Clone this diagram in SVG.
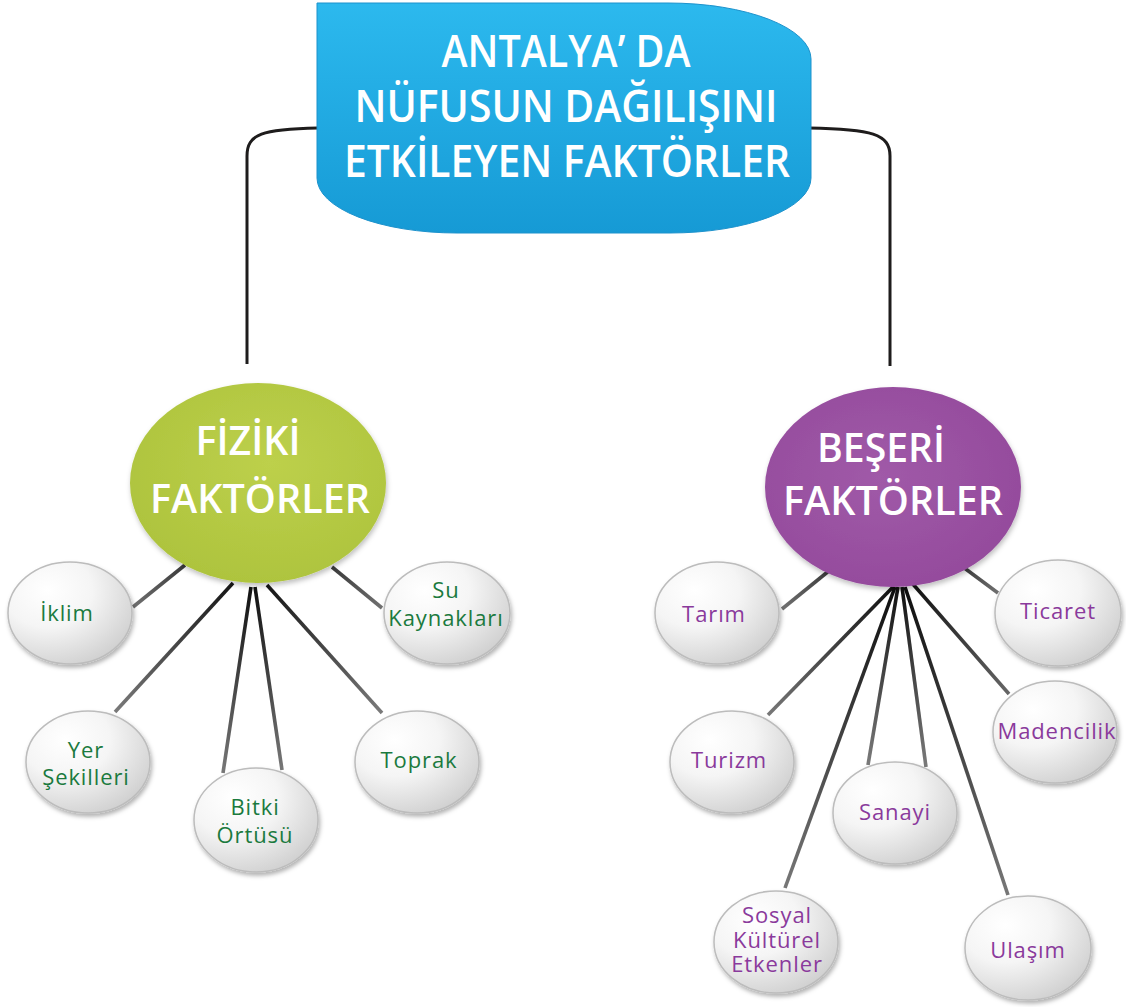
<svg xmlns="http://www.w3.org/2000/svg" width="1126" height="1007" viewBox="0 0 1126 1007">
<defs>
<style>
.main{font-family:"Open Sans","Liberation Sans",sans-serif;font-weight:600;fill:#fff;text-anchor:middle}
.leaf{font-family:"Open Sans","DejaVu Sans",sans-serif;font-size:22px;letter-spacing:0.9px;text-anchor:middle}
.g{fill:#1b7a3e}
.p{fill:#8a3a9c}
.lf{fill:url(#leafG);stroke:#bcbcbc;stroke-width:1.5;filter:url(#sh)}
.ln{fill:none;stroke-width:3.6;stroke-linecap:butt}
.tc{fill:none;stroke:#1e1c1c;stroke-width:3}
</style>
<linearGradient id="titleG" x1="0" y1="0" x2="0" y2="1">
<stop offset="0" stop-color="#2cb9ee"/>
<stop offset="1" stop-color="#169ad5"/>
</linearGradient>
<radialGradient id="greenG" cx="0.55" cy="0.4" r="0.65">
<stop offset="0" stop-color="#bdd04b"/>
<stop offset="1" stop-color="#adc33d"/>
</radialGradient>
<radialGradient id="purpleG" cx="0.45" cy="0.45" r="0.65">
<stop offset="0" stop-color="#a05aa8"/>
<stop offset="1" stop-color="#93499b"/>
</radialGradient>
<radialGradient id="leafG" cx="0.32" cy="0.28" r="0.8">
<stop offset="0" stop-color="#ffffff"/>
<stop offset="0.45" stop-color="#f5f5f5"/>
<stop offset="1" stop-color="#cfcfcf"/>
</radialGradient>
<filter id="sh" x="-20%" y="-20%" width="140%" height="150%">
<feDropShadow dx="1.5" dy="3" stdDeviation="2" flood-color="#000" flood-opacity="0.3"/>
</filter>
<filter id="sh2" x="-10%" y="-10%" width="120%" height="130%">
<feDropShadow dx="1" dy="3" stdDeviation="2.5" flood-color="#000" flood-opacity="0.25"/>
</filter>
<linearGradient id="l1" gradientUnits="userSpaceOnUse" x1="185" y1="565" x2="133" y2="607"><stop offset="0" stop-color="#3a3a3a"/><stop offset="1" stop-color="#707070"/></linearGradient>
<linearGradient id="l2" gradientUnits="userSpaceOnUse" x1="233" y1="583" x2="115" y2="712"><stop offset="0" stop-color="#151515"/><stop offset="1" stop-color="#7a7a7a"/></linearGradient>
<linearGradient id="l3" gradientUnits="userSpaceOnUse" x1="251" y1="587" x2="223" y2="773"><stop offset="0" stop-color="#101010"/><stop offset="1" stop-color="#777"/></linearGradient>
<linearGradient id="l4" gradientUnits="userSpaceOnUse" x1="255" y1="587" x2="282" y2="770"><stop offset="0" stop-color="#101010"/><stop offset="1" stop-color="#777"/></linearGradient>
<linearGradient id="l5" gradientUnits="userSpaceOnUse" x1="267" y1="585" x2="382" y2="713"><stop offset="0" stop-color="#151515"/><stop offset="1" stop-color="#7a7a7a"/></linearGradient>
<linearGradient id="l6" gradientUnits="userSpaceOnUse" x1="332" y1="567" x2="382" y2="608"><stop offset="0" stop-color="#3a3a3a"/><stop offset="1" stop-color="#707070"/></linearGradient>
<linearGradient id="r1" gradientUnits="userSpaceOnUse" x1="830" y1="570" x2="782" y2="609"><stop offset="0" stop-color="#3a3a3a"/><stop offset="1" stop-color="#707070"/></linearGradient>
<linearGradient id="r2" gradientUnits="userSpaceOnUse" x1="963" y1="567" x2="998" y2="593"><stop offset="0" stop-color="#3a3a3a"/><stop offset="1" stop-color="#707070"/></linearGradient>
<linearGradient id="r3" gradientUnits="userSpaceOnUse" x1="893" y1="587" x2="768" y2="715"><stop offset="0" stop-color="#101010"/><stop offset="1" stop-color="#777"/></linearGradient>
<linearGradient id="r4" gradientUnits="userSpaceOnUse" x1="912" y1="583" x2="1009" y2="694"><stop offset="0" stop-color="#101010"/><stop offset="1" stop-color="#666"/></linearGradient>
<linearGradient id="r5" gradientUnits="userSpaceOnUse" x1="898" y1="587" x2="868" y2="765"><stop offset="0" stop-color="#101010"/><stop offset="1" stop-color="#7a7a7a"/></linearGradient>
<linearGradient id="r6" gradientUnits="userSpaceOnUse" x1="902" y1="587" x2="926" y2="767"><stop offset="0" stop-color="#101010"/><stop offset="1" stop-color="#7a7a7a"/></linearGradient>
<linearGradient id="r7" gradientUnits="userSpaceOnUse" x1="895" y1="587" x2="785" y2="888"><stop offset="0" stop-color="#0d0d0d"/><stop offset="1" stop-color="#777"/></linearGradient>
<linearGradient id="r8" gradientUnits="userSpaceOnUse" x1="905" y1="587" x2="1008" y2="895"><stop offset="0" stop-color="#0d0d0d"/><stop offset="1" stop-color="#777"/></linearGradient>
</defs>
<rect width="1126" height="1007" fill="#fff"/>
<g id="connectors">
<path class="tc" d="M318,128 C262,129 247,134 247,156 V364"/>
<path class="tc" d="M809,128 C872,129 890,134 890,156 V366"/>
<line class="ln" stroke="url(#l1)" x1="185" y1="565" x2="133" y2="607"/>
<line class="ln" stroke="url(#l2)" x1="233" y1="583" x2="115" y2="712"/>
<line class="ln" stroke="url(#l3)" x1="251" y1="587" x2="223" y2="773"/>
<line class="ln" stroke="url(#l4)" x1="255" y1="587" x2="282" y2="770"/>
<line class="ln" stroke="url(#l5)" x1="267" y1="585" x2="382" y2="713"/>
<line class="ln" stroke="url(#l6)" x1="332" y1="567" x2="382" y2="608"/>
<line class="ln" stroke="url(#r1)" x1="830" y1="570" x2="782" y2="609"/>
<line class="ln" stroke="url(#r2)" x1="963" y1="567" x2="998" y2="593"/>
<line class="ln" stroke="url(#r3)" x1="893" y1="587" x2="768" y2="715"/>
<line class="ln" stroke="url(#r4)" x1="912" y1="583" x2="1009" y2="694"/>
<line class="ln" stroke="url(#r5)" x1="898" y1="587" x2="868" y2="765"/>
<line class="ln" stroke="url(#r6)" x1="902" y1="587" x2="926" y2="767"/>
<line class="ln" stroke="url(#r7)" x1="895" y1="587" x2="785" y2="888"/>
<line class="ln" stroke="url(#r8)" x1="905" y1="587" x2="1008" y2="895"/>
</g>
<g id="title">
<path d="M317,3 H668 A143,56 0 0 1 811,59 V178 A141,55 0 0 1 670,233 H457 A140,55 0 0 1 317,178 Z" fill="url(#titleG)" stroke="#1d92cc" stroke-width="1"/>
<text class="main" font-size="45" x="566" y="67" textLength="249" lengthAdjust="spacingAndGlyphs">ANTALYA’ DA</text>
<text class="main" font-size="45" x="566" y="122" textLength="423" lengthAdjust="spacingAndGlyphs">NÜFUSUN DAĞILIŞINI</text>
<text class="main" font-size="45" x="567" y="177" textLength="446" lengthAdjust="spacingAndGlyphs">ETKİLEYEN FAKTÖRLER</text>
</g>
<g id="fiziki">
<ellipse cx="258" cy="483" rx="128" ry="100" fill="url(#greenG)" filter="url(#sh2)"/>
<text class="main" font-size="39" x="248" y="455" textLength="105" lengthAdjust="spacingAndGlyphs">FİZİKİ</text>
<text class="main" font-size="39" x="260" y="513" textLength="220" lengthAdjust="spacingAndGlyphs">FAKTÖRLER</text>
</g>
<g id="beseri">
<ellipse cx="893" cy="487" rx="128" ry="100" fill="url(#purpleG)" filter="url(#sh2)"/>
<text class="main" font-size="39" x="881" y="462" textLength="128" lengthAdjust="spacingAndGlyphs">BEŞERİ</text>
<text class="main" font-size="39" x="893" y="515" textLength="220" lengthAdjust="spacingAndGlyphs">FAKTÖRLER</text>
</g>
<g id="iklim"><ellipse class="lf" cx="70" cy="613" rx="62" ry="51"/><text class="leaf g" x="67" y="621">İklim</text></g>
<g id="su-kaynaklari"><ellipse class="lf" cx="447" cy="613" rx="63" ry="51"/><text class="leaf g" x="446" y="598">Su<tspan x="446" y="626">Kaynakları</tspan></text></g>
<g id="yer-sekilleri"><ellipse class="lf" cx="88" cy="762" rx="62" ry="51"/><text class="leaf g" x="86" y="758">Yer<tspan x="86" y="785">Şekilleri</tspan></text></g>
<g id="bitki-ortusu"><ellipse class="lf" cx="256" cy="820" rx="62" ry="52"/><text class="leaf g" x="255" y="815">Bitki<tspan x="255" y="843">Örtüsü</tspan></text></g>
<g id="toprak"><ellipse class="lf" cx="417" cy="762" rx="62" ry="51"/><text class="leaf g" x="419" y="768">Toprak</text></g>
<g id="tarim"><ellipse class="lf" cx="717" cy="613" rx="62" ry="51"/><text class="leaf p" x="714" y="622">Tarım</text></g>
<g id="ticaret"><ellipse class="lf" cx="1058" cy="613" rx="63" ry="53"/><text class="leaf p" x="1058" y="619">Ticaret</text></g>
<g id="turizm"><ellipse class="lf" cx="732" cy="762" rx="62" ry="51"/><text class="leaf p" x="729" y="768">Turizm</text></g>
<g id="madencilik"><ellipse class="lf" cx="1055" cy="732" rx="62" ry="51"/><text class="leaf p" x="1057" y="739">Madencilik</text></g>
<g id="sanayi"><ellipse class="lf" cx="895" cy="813" rx="62" ry="51"/><text class="leaf p" x="895" y="820">Sanayi</text></g>
<g id="sosyal"><ellipse class="lf" cx="776" cy="942" rx="62" ry="51"/><text class="leaf p" x="777" y="923">Sosyal<tspan x="777" y="948">Kültürel</tspan><tspan x="777" y="972">Etkenler</tspan></text></g>
<g id="ulasim"><ellipse class="lf" cx="1028" cy="948" rx="63" ry="52"/><text class="leaf p" x="1028" y="958">Ulaşım</text></g>
</svg>
